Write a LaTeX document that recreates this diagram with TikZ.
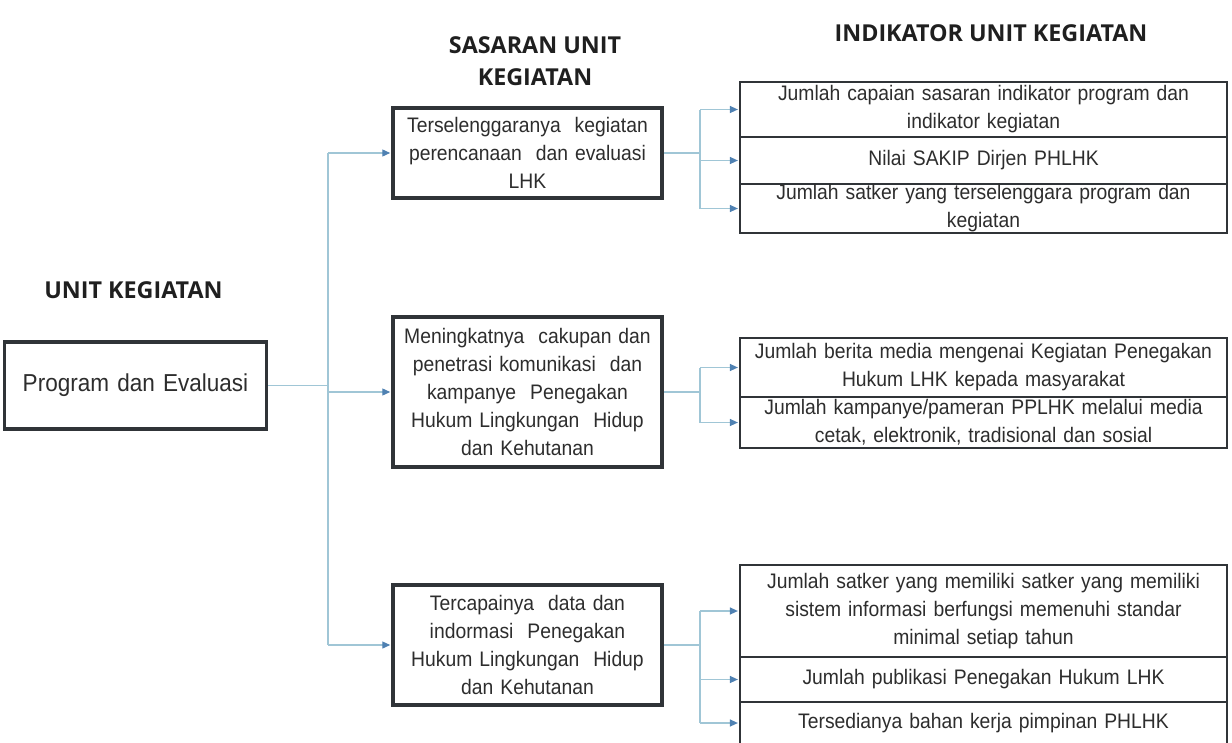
\documentclass[tikz,border=0pt]{standalone}
\usepackage{fontspec}
\setmainfont{Liberation Sans}[FakeStretch=0.92]
\newfontfamily\headfont{Open Sans}
\usetikzlibrary{arrows.meta}
\definecolor{warnaGaris}{RGB}{160,198,214}
\definecolor{warnaPanah}{RGB}{79,129,178}
\definecolor{warnaBingkai}{RGB}{48,52,56}
\definecolor{warnaTeks}{RGB}{45,45,45}
\begin{document}
\begin{tikzpicture}[x=1pt,y=-1pt,
	judul/.style={font=\headfont\bfseries\fontsize{23.3}{32}\selectfont,text=black!88,align=center,inner sep=0},
	sasaran/.style={draw=warnaBingkai,line width=3.5pt,fill=white,text=warnaTeks,font=\fontsize{21}{28}\selectfont,align=center,inner sep=0,minimum width=269pt,text width=262pt},
	indikator/.style={draw=warnaBingkai,line width=2.2pt,fill=white,text=warnaTeks,font=\fontsize{21}{28}\selectfont,align=center,inner sep=0,minimum width=487pt,text width=482pt},
	garis/.style={draw=warnaGaris,line width=1.3pt},
	panah/.style={garis,shorten >=1pt,-{Triangle[length=8pt,width=7pt,color=warnaPanah]}}]
			\useasboundingbox (0,0) rectangle (1232,742);
			%judul%
			\node[judul] (jUnit) at (133.5,290) {UNIT KEGIATAN};
			\node[judul] (jSasaran) at (535,61) {SASARAN UNIT\\KEGIATAN};
			\node[judul] (jIndikator) at (991,33) {INDIKATOR UNIT KEGIATAN};
			%unit kegiatan%
			\node[sasaran,minimum width=255pt,minimum height=87pt,font=\fontsize{24.5}{28}\selectfont] (unit) at (135.5,385.5) {Program dan Evaluasi};
			%sasaran%
			\node[sasaran,minimum height=90pt] (sas1) at (527.5,153) {Terselenggaranya\ \ kegiatan\\perencanaan\ \ dan evaluasi\\LHK};
			\node[sasaran,minimum height=150pt] (sas2) at (527.5,392) {Meningkatnya\ \ cakupan dan\\penetrasi komunikasi\ \ dan\\kampanye\ \ Penegakan\\Hukum Lingkungan\ \ Hidup\\dan Kehutanan};
			\node[sasaran,minimum height=120pt] (sas3) at (527.5,645) {Tercapainya\ \ data dan\\indormasi\ \ Penegakan\\Hukum Lingkungan\ \ Hidup\\dan Kehutanan};
			%indikator%
			\node[indikator,minimum height=55pt] (ind1a) at (983.5,109.5) {Jumlah capaian sasaran indikator program dan\\indikator kegiatan};
			\node[indikator,minimum height=47pt] (ind1b) at (983.5,160.5) {Nilai SAKIP Dirjen PHLHK};
			\node[indikator,minimum height=49pt] (ind1c) at (983.5,208.5) {Jumlah satker yang terselenggara program dan\\kegiatan};
			\node[indikator,minimum height=59pt] (ind2a) at (983.5,367.5) {Jumlah berita media mengenai Kegiatan Penegakan\\Hukum LHK kepada masyarakat};
			\node[indikator,minimum height=51pt] (ind2b) at (983.5,422.5) {Jumlah kampanye/pameran PPLHK melalui media\\cetak, elektronik, tradisional dan sosial};
			\node[indikator,minimum height=92pt] (ind3a) at (983.5,611) {Jumlah satker yang memiliki satker yang memiliki\\sistem informasi berfungsi memenuhi standar\\minimal setiap tahun};
			\node[indikator,minimum height=45pt] (ind3b) at (983.5,679.5) {Jumlah publikasi Penegakan Hukum LHK};
			\node[indikator,minimum height=42pt] (ind3c) at (983.5,723) {Tersedianya bahan kerja pimpinan PHLHK};
			%penghubung%
			\coordinate (batang) at (328,0);
			\coordinate (cabang) at (700,0);
			\draw[garis] (unit.east) -- (unit.east -| batang);
			\draw[garis] (sas1.west -| batang) -- (sas3.west -| batang);
			\foreach \s in {sas1,sas2,sas3}
				\draw[panah] (\s.west -| batang) -- (\s.west);
			\draw[garis] (sas1.east) -- (sas1.east -| cabang);
			\draw[garis] (ind1a.west -| cabang) -- (ind1c.west -| cabang);
			\foreach \i in {ind1a,ind1b,ind1c}
				\draw[panah] (\i.west -| cabang) -- (\i.west);
			\draw[garis] (sas2.east) -- (sas2.east -| cabang);
			\draw[garis] (ind2a.west -| cabang) -- (ind2b.west -| cabang);
			\foreach \i in {ind2a,ind2b}
				\draw[panah] (\i.west -| cabang) -- (\i.west);
			\draw[garis] (sas3.east) -- (sas3.east -| cabang);
			\draw[garis] (ind3a.west -| cabang) -- (ind3c.west -| cabang);
			\foreach \i in {ind3a,ind3b,ind3c}
				\draw[panah] (\i.west -| cabang) -- (\i.west);
\end{tikzpicture}
\end{document}
